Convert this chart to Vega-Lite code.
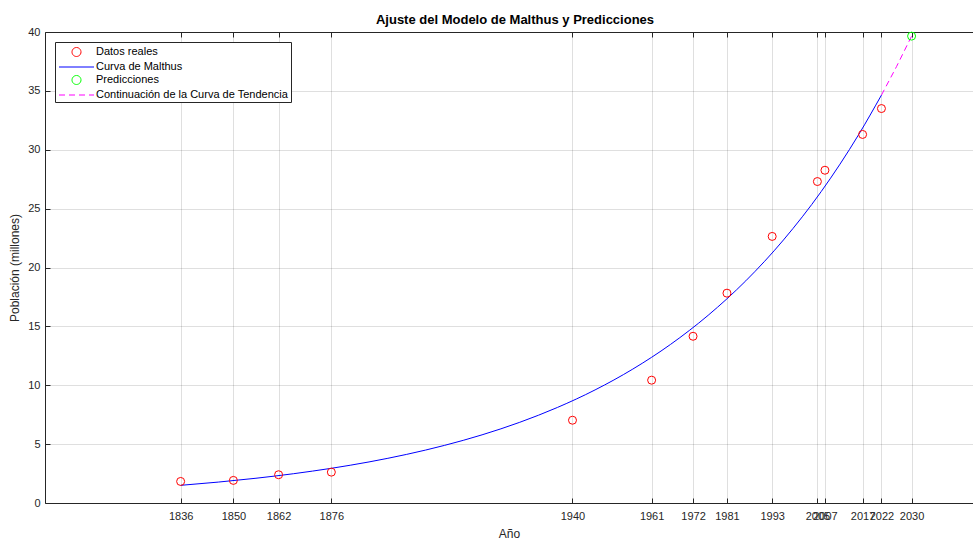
{
  "$schema": "https://vega.github.io/schema/vega-lite/v6.json",
  "autosize": {"type": "none"},
  "padding": {"left": 45, "top": 32, "right": 0, "bottom": 36},
  "width": 928,
  "height": 471,
  "background": "white",
  "title": {"text": "Ajuste del Modelo de Malthus y Predicciones", "fontSize": 13, "fontWeight": "bold", "font": "Liberation Sans", "color": "#000000", "offset": -1, "dx": 6},
  "datasets": {
    "reales": [
      {"serie": "Datos reales", "anio": 1836, "poblacion": 1.83},
      {"serie": "Datos reales", "anio": 1850, "poblacion": 1.92},
      {"serie": "Datos reales", "anio": 1862, "poblacion": 2.4},
      {"serie": "Datos reales", "anio": 1876, "poblacion": 2.62},
      {"serie": "Datos reales", "anio": 1940, "poblacion": 7.03},
      {"serie": "Datos reales", "anio": 1961, "poblacion": 10.43},
      {"serie": "Datos reales", "anio": 1972, "poblacion": 14.16},
      {"serie": "Datos reales", "anio": 1981, "poblacion": 17.82},
      {"serie": "Datos reales", "anio": 1993, "poblacion": 22.64},
      {"serie": "Datos reales", "anio": 2005, "poblacion": 27.3},
      {"serie": "Datos reales", "anio": 2007, "poblacion": 28.26},
      {"serie": "Datos reales", "anio": 2017, "poblacion": 31.3},
      {"serie": "Datos reales", "anio": 2022, "poblacion": 33.5}
    ],
    "curva": [
      {"serie": "Curva de Malthus", "anio": 1836, "poblacion": 1.5},
      {"serie": "Curva de Malthus", "anio": 1846, "poblacion": 1.776},
      {"serie": "Curva de Malthus", "anio": 1856, "poblacion": 2.102},
      {"serie": "Curva de Malthus", "anio": 1866, "poblacion": 2.489},
      {"serie": "Curva de Malthus", "anio": 1876, "poblacion": 2.947},
      {"serie": "Curva de Malthus", "anio": 1886, "poblacion": 3.488},
      {"serie": "Curva de Malthus", "anio": 1896, "poblacion": 4.13},
      {"serie": "Curva de Malthus", "anio": 1906, "poblacion": 4.89},
      {"serie": "Curva de Malthus", "anio": 1916, "poblacion": 5.789},
      {"serie": "Curva de Malthus", "anio": 1926, "poblacion": 6.853},
      {"serie": "Curva de Malthus", "anio": 1936, "poblacion": 8.114},
      {"serie": "Curva de Malthus", "anio": 1946, "poblacion": 9.605},
      {"serie": "Curva de Malthus", "anio": 1956, "poblacion": 11.372},
      {"serie": "Curva de Malthus", "anio": 1966, "poblacion": 13.463},
      {"serie": "Curva de Malthus", "anio": 1976, "poblacion": 15.939},
      {"serie": "Curva de Malthus", "anio": 1986, "poblacion": 18.869},
      {"serie": "Curva de Malthus", "anio": 1996, "poblacion": 22.339},
      {"serie": "Curva de Malthus", "anio": 2006, "poblacion": 26.445},
      {"serie": "Curva de Malthus", "anio": 2016, "poblacion": 31.309},
      {"serie": "Curva de Malthus", "anio": 2022, "poblacion": 34.64}
    ],
    "cont": [
      {"serie": "Continuación de la Curva de Tendencia", "anio": 2022, "poblacion": 34.64},
      {"serie": "Continuación de la Curva de Tendencia", "anio": 2026, "poblacion": 37.06},
      {"serie": "Continuación de la Curva de Tendencia", "anio": 2030, "poblacion": 39.65}
    ],
    "pred": [
      {"serie": "Predicciones", "anio": 2030, "poblacion": 39.65}
    ]
  },
  "layer": [
    {
      "data": {"name": "curva"},
      "mark": {"type": "line", "strokeWidth": 1, "interpolate": "monotone", "clip": true},
      "encoding": {
        "x": {
          "field": "anio", "type": "quantitative",
          "scale": {"domain": [1800, 2046.3], "nice": false, "zero": false},
          "axis": {"orient": "bottom", "values": [1836, 1850, 1862, 1876, 1940, 1961, 1972, 1981, 1993, 2005, 2007, 2017, 2022, 2030], "format": "d", "title": "Año", "grid": true, "labelOverlap": false, "labelFlush": false, "labelPadding": 12, "titlePadding": 7}
        },
        "y": {
          "field": "poblacion", "type": "quantitative",
          "scale": {"domain": [0, 40], "nice": false, "zero": true},
          "axis": {"values": [0, 5, 10, 15, 20, 25, 30, 35, 40], "title": "Población (millones)", "grid": true, "labelPadding": 10, "titlePadding": 6}
        },
        "color": {
          "field": "serie", "type": "nominal",
          "scale": {"domain": ["Datos reales", "Curva de Malthus", "Predicciones", "Continuación de la Curva de Tendencia"], "range": ["#ff0000", "#0000ff", "#00ff00", "#ff00ff"]},
          "legend": {
            "title": null, "orient": "top-left", "offset": 10, "padding": 2,
            "strokeColor": "#262626", "fillColor": "white",
            "labelFontSize": 11, "labelColor": "#000000", "labelFont": "Liberation Sans", "labelLimit": 0,
            "symbolSize": 225, "labelOffset": 23, "rowPadding": 0,
            "encode": {
              "symbols": {
                "update": {
                  "shape": {"signal": "datum.value === 'Datos reales' || datum.value === 'Predicciones' ? 'M2.133,0A0.6,0.6,0,1,1,0.933,0A0.6,0.6,0,1,1,2.133,0Z' : 'M-0.8,0H3.867'"},
                  "strokeDash": {"signal": "datum.value === 'Continuación de la Curva de Tendencia' ? [6,4] : [1,0]"},
                  "fill": {"value": "transparent"},
                  "strokeWidth": {"value": 1},
                  "opacity": {"value": 1}
                }
              }
            }
          }
        }
      }
    },
    {
      "data": {"name": "cont"},
      "mark": {"type": "line", "strokeWidth": 1, "strokeDash": [6, 4], "clip": true},
      "encoding": {
        "x": {"field": "anio", "type": "quantitative", "axis": {"orient": "top", "values": [1836, 1850, 1862, 1876, 1940, 1961, 1972, 1981, 1993, 2005, 2007, 2017, 2022, 2030], "labels": false, "grid": false, "title": null}},
        "y": {"field": "poblacion", "type": "quantitative"},
        "color": {"field": "serie", "type": "nominal"}
      }
    },
    {
      "data": {"name": "reales"},
      "mark": {"type": "point", "shape": "circle", "filled": false, "size": 64, "strokeWidth": 1, "opacity": 1},
      "encoding": {
        "x": {"field": "anio", "type": "quantitative", "axis": null},
        "y": {"field": "poblacion", "type": "quantitative"},
        "color": {"field": "serie", "type": "nominal"}
      }
    },
    {
      "data": {"name": "pred"},
      "mark": {"type": "point", "shape": "circle", "filled": false, "size": 64, "strokeWidth": 1, "opacity": 1},
      "encoding": {
        "x": {"field": "anio", "type": "quantitative", "axis": null},
        "y": {"field": "poblacion", "type": "quantitative"},
        "color": {"field": "serie", "type": "nominal"}
      }
    }
  ],
  "resolve": {"axis": {"x": "independent"}},
  "config": {
    "font": "Liberation Sans",
    "view": {"stroke": null},
    "axis": {
      "domainColor": "#262626", "tickColor": "#262626", "labelColor": "#262626", "titleColor": "#262626",
      "labelFontSize": 11, "titleFontSize": 12, "titleFontWeight": "normal",
      "labelFont": "Liberation Sans", "titleFont": "Liberation Sans",
      "gridColor": "#262626", "gridOpacity": 0.15, "tickSize": -5
    }
  }
}
